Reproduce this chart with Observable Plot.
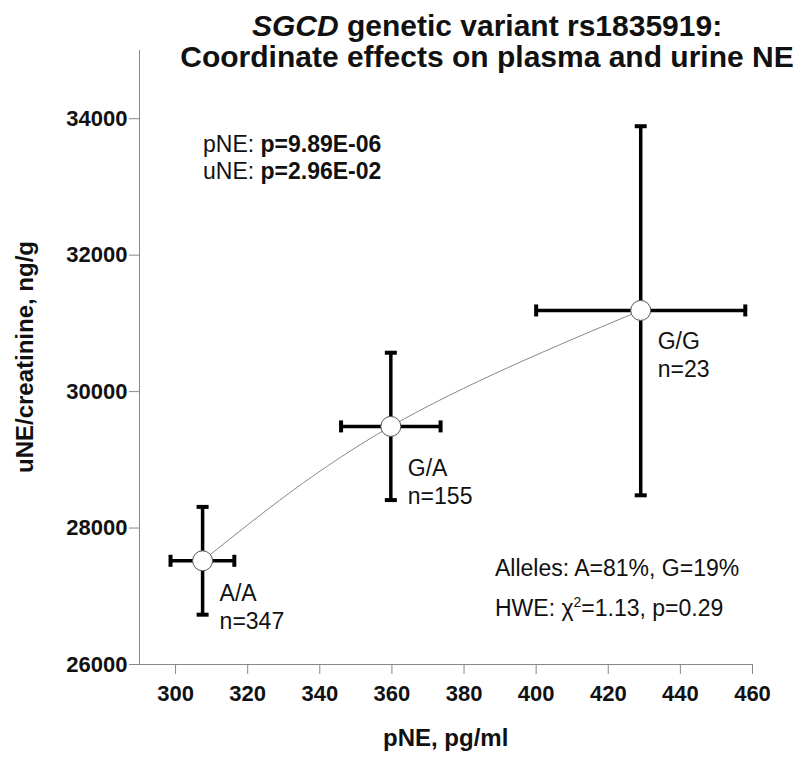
<!DOCTYPE html>
<html><head><meta charset="utf-8">
<script src="https://cdn.jsdelivr.net/npm/d3@7"></script>
<script src="https://cdn.jsdelivr.net/npm/@observablehq/plot@0.6"></script>
<style>
body{margin:0;background:#fff;font-family:"Liberation Sans",Arial,sans-serif;color:#111;}
#wrap{position:relative;width:800px;height:773px;overflow:hidden;}
.t{position:absolute;white-space:nowrap;}
#title{left:0;top:10px;width:974px;text-align:center;font-weight:bold;font-size:30px;line-height:31px;}
.ann{font-size:23px;line-height:27px;}
.axl{font-size:24px;font-weight:bold;}
</style></head><body>
<div id="wrap">
  <div id="chart"></div>
  <div id="title" class="t"><i>SGCD</i> genetic variant rs1835919:<br>Coordinate effects on plasma and urine NE</div>
  <div class="t ann" style="left:203px;top:131px;">pNE: <b>p=9.89E-06</b><br>uNE: <b>p=2.96E-02</b></div>
  <div class="t ann" style="left:495px;top:548px;line-height:40px;">Alleles: A=81%, G=19%<br>HWE: &#967;<sup style="font-size:14px;vertical-align:9px;line-height:0">2</sup>=1.13, p=0.29</div>
  <div class="t axl" id="xlab">pNE, pg/ml</div>
  <div class="t axl" id="ylab">uNE/creatinine, ng/g</div>
</div>
<script>
// ---- data ----
const genotypes = ["A/A", "G/A", "G/G"];
const counts = [347, 155, 23];
const pNEmean = [307.5, 359.7, 429.0];
const pNElow = [298.6, 345.9, 400.0];
const pNEhigh = [316.3, 373.5, 458.0];
const uNEmean = [27520, 29490, 31190];
const uNElow = [26730, 28410, 28480];
const uNEhigh = [28310, 30570, 33890];
const xTicks = [300, 320, 340, 360, 380, 400, 420, 440, 460];
const yTicks = [26000, 28000, 30000, 32000, 34000];
const xDomain = [290, 460];
const yDomain = [26000, 35000];

const rows = genotypes.map((g, i) => ({
  g, n: counts[i], x: pNEmean[i], y: uNEmean[i],
  xlo: pNElow[i], xhi: pNEhigh[i], ylo: uNElow[i], yhi: uNEhigh[i],
  label: g + "\nn=" + counts[i]
}));
const vCaps = rows.flatMap(d => [{x: d.x, y: d.ylo}, {x: d.x, y: d.yhi}]);
const hCaps = rows.flatMap(d => [{x: d.xlo, y: d.y}, {x: d.xhi, y: d.y}]);

const hLine = {draw(ctx, size) { const r = Math.sqrt(size / Math.PI); ctx.moveTo(-r, 0); ctx.lineTo(r, 0); }};
const vLine = {draw(ctx, size) { const r = Math.sqrt(size / Math.PI); ctx.moveTo(0, -r); ctx.lineTo(0, r); }};

const labelDy = [21, 30, 19];

const plot = Plot.plot({
  width: 800, height: 773,
  marginLeft: 139, marginRight: 48, marginTop: 50, marginBottom: 109,
  style: {fontFamily: "'Liberation Sans', Arial, sans-serif", background: "white", color: "#111"},
  x: {domain: xDomain},
  y: {domain: yDomain},
  marks: [
    Plot.ruleX([xDomain[0]], {stroke: "#888", strokeWidth: 1}),
    Plot.ruleY([yDomain[0]], {stroke: "#888", strokeWidth: 1}),
    Plot.axisX({ticks: xTicks, tickSize: 10, tickPadding: 11, tickFormat: d => String(d), fontSize: 22, fontWeight: "bold", stroke: "#888", label: null}),
    Plot.axisY({ticks: yTicks, tickSize: 10, tickPadding: 2, tickFormat: d => String(d), fontSize: 22, fontWeight: "bold", stroke: "#888", label: null}),
    Plot.line(rows, {x: "x", y: "y", curve: "natural", stroke: "#888", strokeWidth: 1}),
    Plot.link(rows, {x1: "x", x2: "x", y1: "ylo", y2: "yhi", stroke: "#000", strokeWidth: 3.5}),
    Plot.link(rows, {x1: "xlo", x2: "xhi", y1: "y", y2: "y", stroke: "#000", strokeWidth: 3.5}),
    Plot.dot(vCaps, {x: "x", y: "y", symbol: hLine, r: 6, stroke: "#000", strokeWidth: 4, fill: "none"}),
    Plot.dot(hCaps, {x: "x", y: "y", symbol: vLine, r: 6, stroke: "#000", strokeWidth: 4, fill: "none"}),
    Plot.dot(rows, {x: "x", y: "y", r: 10, fill: "white", stroke: "#555", strokeWidth: 1}),
    ...rows.map((d, i) => Plot.text([d], {x: "x", y: "y", text: "label", textAnchor: "start", lineAnchor: "top", dx: 17, dy: labelDy[i], fontSize: 23, lineHeight: 1.2, fill: "#111"}))
  ]
});
document.getElementById("chart").appendChild(plot);

// axis titles centered on the plot frame
const xs = plot.scale("x"), ys = plot.scale("y");
const xl = document.getElementById("xlab");
const cx = (xs.range[0] + xs.range[1]) / 2;
xl.style.left = (cx - xl.offsetWidth / 2) + "px";
xl.style.top = (738 - xl.offsetHeight / 2) + "px";
const yl = document.getElementById("ylab");
const cy = (ys.range[0] + ys.range[1]) / 2;
yl.style.left = (25 - yl.offsetWidth / 2) + "px";
yl.style.top = (cy - yl.offsetHeight / 2) + "px";
yl.style.transform = "rotate(-90deg)";
</script>
</body></html>
